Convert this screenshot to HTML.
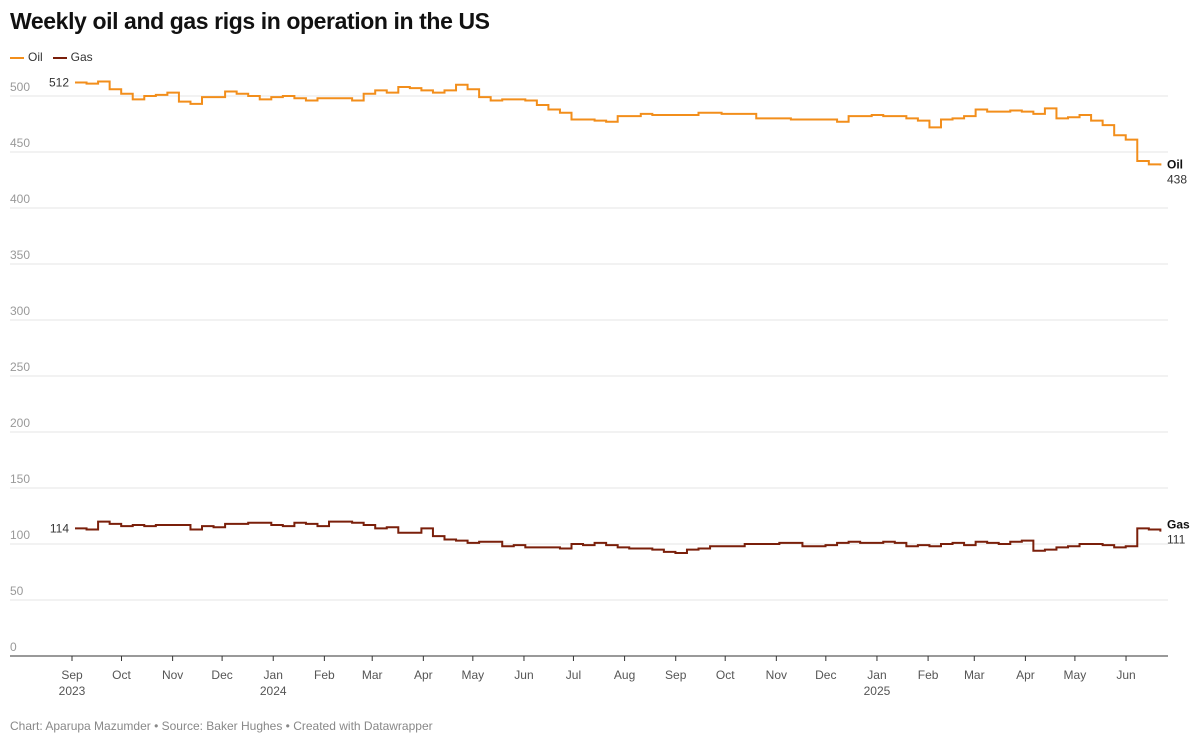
<!DOCTYPE html>
<html><head><meta charset="utf-8"><style>
body{margin:0;background:#fff;font-family:"Liberation Sans",Arial,sans-serif;}
#t{position:absolute;left:10px;top:8px;font-size:23px;font-weight:bold;color:#111;letter-spacing:-0.4px}
#lg{position:absolute;left:10px;top:50px;font-size:12px;color:#333}
#lg span{display:inline-block;margin-right:10px}
#lg i{display:inline-block;width:14px;height:2px;vertical-align:middle;margin-right:4px}
#ft{position:absolute;left:10px;top:719px;font-size:12px;color:#888}
svg{position:absolute;left:0;top:0}
</style></head><body>
<div id="t">Weekly oil and gas rigs in operation in the US</div>
<div id="lg"><span><i style="background:#f28e1b"></i>Oil</span><span><i style="background:#7a1f0a"></i>Gas</span></div>
<svg id="c" width="1200" height="744"></svg>
<div id="ft">Chart: Aparupa Mazumder • Source: Baker Hughes • Created with Datawrapper</div>
<script>
const oil=[512,511,513,506,502,497,500,501,503,495,493,499,499,504,502,500,497,499,500,498,496,498,498,498,496,502,505,503,508,507,505,503,505,510,506,499,496,497,497,496,492,488,485,479,479,478,477,482,482,484,483,483,483,483,485,485,484,484,484,480,480,480,479,479,479,479,477,482,482,483,482,482,480,478,472,479,480,482,488,486,486,487,486,484,489,480,481,483,478,474,465,461,442,439,438];
const gas=[114,113,120,118,116,117,116,117,117,117,113,116,115,118,118,119,119,117,116,119,118,116,120,120,119,117,114,115,110,110,114,107,104,103,101,102,102,98,99,97,97,97,96,100,99,101,99,97,96,96,95,93,92,95,96,98,98,98,100,100,100,101,101,98,98,99,101,102,101,101,102,101,98,99,98,100,101,99,102,101,100,102,103,94,95,97,98,100,100,99,97,98,114,113,111];
const yTicks=[0,50,100,150,200,250,300,350,400,450,500];
const months=["Sep","Oct","Nov","Dec","Jan","Feb","Mar","Apr","May","Jun","Jul","Aug","Sep","Oct","Nov","Dec","Jan","Feb","Mar","Apr","May","Jun"];
const monthDays=[0,30,61,91,122,153,182,213,243,274,304,335,366,396,427,457,488,519,547,578,608,639];
const years={0:"2023",4:"2024",16:"2025"};
const NS="http://www.w3.org/2000/svg",svg=document.getElementById('c');
const y=v=>656-v*1.12, xd=d=>72+d*1.6495, xw=i=>72+i*7*1.6495;
function mk(t,a,p){const e=document.createElementNS(NS,t);for(const k in a)e.setAttribute(k,a[k]);(p||svg).appendChild(e);return e;}
yTicks.forEach(v=>{
 if(v>0){const g=mk('line',{x1:10,x2:1168,y1:y(v),y2:y(v),stroke:'#e4e4e4'});
 
 }
 const t=mk('text',{x:10,y:y(v)-5,'font-size':12,fill:'#999'});t.textContent=v;
 
 
});
const ax=mk('line',{x1:10,x2:1168,y1:656,y2:656,stroke:'#333'});


months.forEach((m,i)=>{const x=xd(monthDays[i]);
 mk('line',{x1:x,x2:x,y1:656,y2:661,stroke:'#333'});
 const t=mk('text',{x:x,y:679,'font-size':12,fill:'#555','text-anchor':'middle'});t.textContent=m;
 
 
 if(years[i]){const yt=mk('text',{x:x,y:695,'font-size':12,fill:'#555','text-anchor':'middle'});yt.textContent=years[i];
 
 }
});
function step(arr,col,name){let d='';arr.forEach((v,i)=>{const x=xw(i)+3;d+=(i?`H${x}V${y(v)}`:`M${x} ${y(v)}`);});
 const p=mk('path',{d:d,fill:'none',stroke:col,'stroke-width':2});
 
 }
step(oil,'#f28e1b','oil-line');step(gas,'#7a1f0a','gas-line');
function lab(x,yy,txt,b,anchor){const t=mk('text',{x:x,y:yy,'font-size':12,fill:b?'#111':'#333','font-weight':b?'bold':'normal','text-anchor':anchor||'start'});t.textContent=txt;return t;}
let l;
l=lab(69,y(oil[0])+4,oil[0],false,'end');
l=lab(69,y(gas[0])+4,gas[0],false,'end');
const lo=y(oil[oil.length-1]),lgs=y(gas[gas.length-1]);
l=lab(1167,lo+3,'Oil',true);
l=lab(1167,lo+18,oil[oil.length-1]);
l=lab(1167,lgs-3,'Gas',true);
l=lab(1167,lgs+12,gas[gas.length-1]);
</script>
</body></html>
